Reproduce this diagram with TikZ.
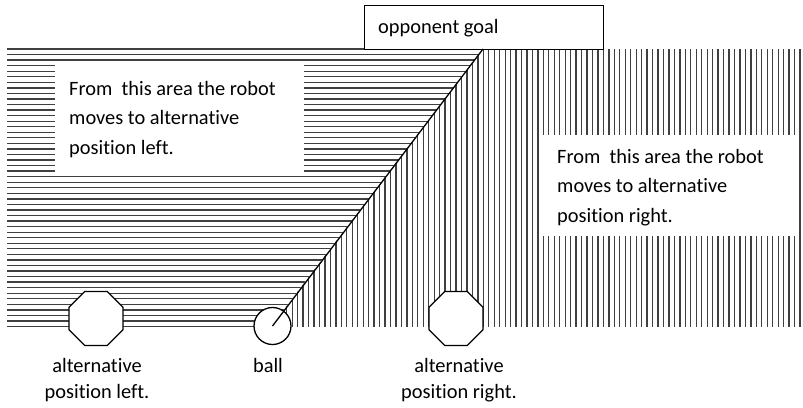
\documentclass[tikz,border=0pt]{standalone}
\usepackage{fontspec}
\setmainfont[Ligatures=NoCommon]{Carlito}
\usetikzlibrary{shapes.geometric}
\tikzset{
  hatch/.style={draw=black!75, line width=1.3pt},
  whitebox/.style={fill=white, draw=none, inner sep=0pt, anchor=north west},
  octa/.style={regular polygon, regular polygon sides=8, minimum size=58.5pt, draw=black, fill=white, line width=1.3pt, inner sep=0pt},
  ballstyle/.style={circle, minimum size=37pt, draw=black, fill=white, line width=1.3pt, inner sep=0pt},
  txt/.style={font=\fontsize{20.4}{29.5}\selectfont, inner sep=0pt, text=black},
  lbl/.style={font=\fontsize{20.4}{26}\selectfont, inner sep=0pt, text=black, anchor=base, align=center},
  goalbox/.style={draw=black, fill=white, line width=1.3pt, inner sep=0pt, anchor=north west, minimum width=239pt, minimum height=44pt},
}
\begin{document}
\begin{tikzpicture}[x=1pt, y=-1pt]
\useasboundingbox (0,0) rectangle (803,407);
% left hatching
\begin{scope}
  \clip (7,40) -- (489.9,40) -- (264.4,335) -- (7,335) -- cycle;
  \foreach \i in {0,...,50} {
    \pgfmathsetmacro\yy{49+\i*5.55}
    \draw[hatch] (7,\yy) -- (600,\yy);
  }
\end{scope}
% right hatching
\begin{scope}
  \clip (489.9,40) -- (810,40) -- (810,335) -- (264.4,335) -- cycle;
  \foreach \i in {0,...,97} {
    \pgfmathsetmacro\xx{800-\i*5.46}
    \draw[hatch] (\xx,49) -- (\xx,327);
  }
\end{scope}
% white text areas
\node[whitebox, minimum width=249pt, minimum height=110pt] (lbox) at (55,63.5) {};
\node[whitebox, minimum width=253pt, minimum height=100.5pt] (rbox) at (542,135) {};
\node[txt, anchor=base west, align=left] (ltext) at (69,154) {From\ \ this area the robot\\moves to alternative\\position left.};
\node[txt, anchor=base west, align=left] (rtext) at (557,222) {From\ \ this area the robot\\moves to alternative\\position right.};
% goal
\node[goalbox] (goal) at (364,5) {};
\node[txt, anchor=base west] (goaltext) at (378,33) {opponent goal};
% positions
\node[octa] (altl) at (96,318.5) {};
\node[octa] (altr) at (456,318.5) {};
\node[ballstyle] (ball) at (272.5,326) {};
\coordinate (top) at (483,49);
\draw[line width=1.3pt] (ball.center) -- (top);
% labels
\node[lbl] (lblL) at (97,398.5) {alternative\\position left.};
\node[lbl] (lblB) at (268,372.5) {ball};
\node[lbl] (lblR) at (459,398.5) {alternative\\position right.};
\end{tikzpicture}
\end{document}
